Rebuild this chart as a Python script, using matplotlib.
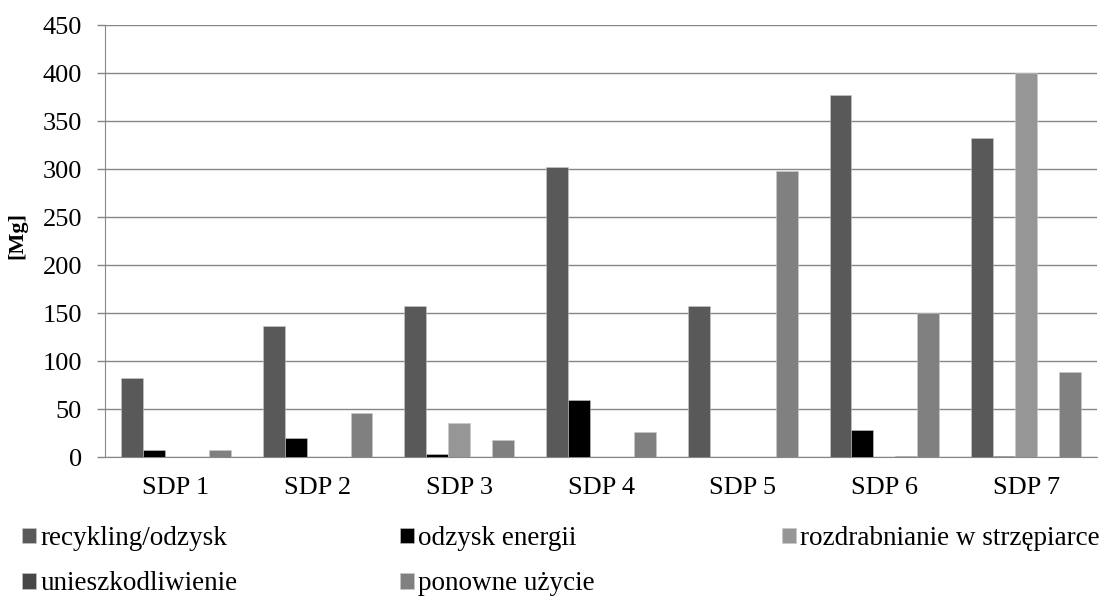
import numpy as np
import matplotlib.pyplot as plt

plt.rcParams['font.family'] = ['Liberation Serif', 'DejaVu Serif']

groups = ["SDP 1", "SDP 2", "SDP 3", "SDP 4", "SDP 5", "SDP 6", "SDP 7"]
series = ["recykling/odzysk", "odzysk energii", "rozdrabnianie w strzępiarce",
          "unieszkodliwienie", "ponowne użycie"]
recykling = [82, 136, 157, 302, 157, 377, 332]
energia = [7, 20, 3, 59, 0, 28, 1.5]
strzepiarka = [0, 0, 35, 0, 0, 0, 400]
unieszkodliwienie = [0, 0, 0, 0, 0, 1.5, 0]
ponowne = [7, 45.5, 18, 26, 298, 150, 88.5]
values = [recykling, energia, strzepiarka, unieszkodliwienie, ponowne]
colors = ["#595959", "#000000", "#969696", "#474747", "#808080"]

fig = plt.figure(figsize=(11.01, 5.98), dpi=100)
ax = fig.add_axes([105 / 1101, 141 / 598, 992 / 1101, 432 / 598])

x = np.arange(len(groups))
w = 0.155
bars = []
for i, (vals, c) in enumerate(zip(values, colors)):
    b = ax.bar(x + (i - 2) * w, vals, w, color=c, edgecolor="#c8c8c8",
               linewidth=0.4, zorder=3, label=series[i])
    bars.append(b)

ax.set_xlim(-0.5, len(groups) - 0.5)
ax.set_ylim(0, 450)
ax.set_yticks(range(0, 451, 50))
ax.set_xticks(x)
ax.set_xticklabels(groups)
ax.tick_params(axis='x', length=0, labelsize=19, pad=14.5)
ax.tick_params(axis='y', length=5.8, width=1, color="#868686", labelsize=19, pad=10.8)
ax.yaxis.grid(True, color="#868686", linewidth=1, zorder=0)
for s in ["top", "right"]:
    ax.spines[s].set_visible(False)
ax.spines["left"].set_color("#868686")
ax.spines["bottom"].set_color("#868686")
fig.text(17 / 1101, 1 - 235 / 598, "[Mg]", rotation=90, fontsize=16,
         fontweight="bold", ha="center", va="center")

# legend laid out as three columns, two rows
cols = [([bars[0], bars[3]], [series[0], series[3]], 22 / 1101),
        ([bars[1], bars[4]], [series[1], series[4]], 400 / 1101),
        ([bars[2]], [series[2]], 782 / 1101)]
for hs, ls, xpos in cols:
    leg = fig.legend(hs, ls, loc="upper left", bbox_to_anchor=(xpos, 1 - 526 / 598),
                     frameon=False, fontsize=19.5, handlelength=0.52, handleheight=0.52,
                     handletextpad=0.15, labelspacing=0.75, borderaxespad=0, borderpad=0)

fig.savefig("out.png", dpi=100)
